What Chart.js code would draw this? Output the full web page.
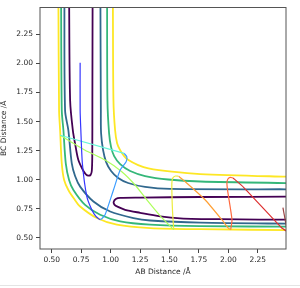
<!DOCTYPE html>
<html>
<head>
<meta charset="utf-8">
<script src="https://cdn.jsdelivr.net/npm/chart.js@4.4.0/dist/chart.umd.min.js"></script>
<style>
  body { margin: 0; background: #ffffff; }
  #box { width: 300px; height: 288px; }
</style>
</head>
<body>
<div id="box"><canvas id="contourChart" width="300" height="288"></canvas></div>
<script>
// Ticks dos eixos
var abTicks = [0.50, 0.75, 1.00, 1.25, 1.50, 1.75, 2.00, 2.25];
var bcTicks = [0.50, 0.75, 1.00, 1.25, 1.50, 1.75, 2.00, 2.25];

// Linhas de contorno (AB, BC)
var purpleEntrance = [[0.647,2.60],[0.656,1.681],[0.679,1.425],[0.700,1.30],[0.726,1.17],[0.769,1.075],[0.790,1.047],[0.811,1.035],[0.830,1.042],[0.840,1.075],[0.844,1.20],[0.845,1.681],[0.847,2.60]];
var purpleExit = [[2.60,0.855],[1.761,0.852],[1.251,0.847],[1.081,0.844],[1.047,0.836],[1.026,0.810],[1.034,0.784],[1.064,0.767],[1.123,0.742],[1.251,0.716],[1.421,0.686],[1.591,0.669],[1.931,0.661],[2.60,0.656]];
var blueOuter = [[0.607,2.60],[0.613,1.596],[0.641,1.425],[0.670,1.140],[0.698,1.032],[0.741,0.941],[0.854,0.813],[0.996,0.727],[1.194,0.671],[1.336,0.650],[1.761,0.631],[2.60,0.622]];
var greenOuter = [[0.579,2.60],[0.585,1.596],[0.599,1.425],[0.619,1.140],[0.647,0.998],[0.684,0.912],[0.783,0.784],[0.911,0.699],[1.081,0.642],[1.336,0.614],[1.761,0.601],[2.60,0.597]];
var yellowOuter = [[0.556,2.60],[0.562,1.596],[0.571,1.425],[0.585,1.140],[0.605,0.998],[0.641,0.912],[0.690,0.836],[0.741,0.770],[0.883,0.671],[1.053,0.614],[1.336,0.585],[1.761,0.575],[2.60,0.567]];
var blueInner = [[0.913,2.60],[0.917,1.596],[0.919,1.399],[0.936,1.254],[0.962,1.152],[1.004,1.075],[1.064,1.015],[1.149,0.972],[1.293,0.938],[1.506,0.921],[2.60,0.918]];
var greenInner = [[0.970,2.60],[0.973,1.681],[0.987,1.399],[1.004,1.280],[1.030,1.203],[1.081,1.134],[1.166,1.075],[1.293,1.032],[1.489,1.002],[1.761,0.985],[2.60,0.970]];
var yellowInner = [[1.019,2.60],[1.024,1.681],[1.038,1.425],[1.055,1.314],[1.081,1.254],[1.115,1.203],[1.151,1.169],[1.234,1.126],[1.321,1.098],[1.520,1.069],[1.761,1.049],[2.49,1.026],[2.60,1.025]];

// Trajetória, por trechos (cor muda com o tempo)
var traj1 = [[0.741,2.006],[0.741,1.596],[0.747,1.425],[0.760,1.140],[0.798,0.855],[0.840,0.742],[0.875,0.685],[0.908,0.657]];
var traj2 = [[0.908,0.657],[0.925,0.665],[0.953,0.699],[1.024,0.912],[1.081,1.083],[1.132,1.154],[1.138,1.197],[1.115,1.226]];
var traj3 = [[1.115,1.226],[0.571,1.382]];
var traj4 = [[0.571,1.382],[0.783,1.254],[0.953,1.169],[1.095,1.069],[1.208,0.955],[1.308,0.827],[1.421,0.690],[1.536,0.571]];
var traj5 = [[1.536,0.571],[1.525,0.75],[1.520,0.970],[1.528,1.015],[1.550,1.032],[1.577,1.030]];
var traj6 = [[1.577,1.030],[1.62,0.995],[1.80,0.83],[1.95,0.65],[2.00,0.585],[2.02,0.571]];
var traj7 = [[2.02,0.571],[2.031,0.656],[1.995,0.90],[1.988,0.970],[1.995,1.005],[2.016,1.021],[2.04,1.015]];
var traj8 = [[2.04,1.015],[2.13,0.935],[2.45,0.59],[2.50,0.555]];
var traj9 = [[2.50,0.56],[2.464,0.76]];

window.onload = function () {
    graficoContorno();
}

function linha(pontos, cor, largura, tensao) {
    return {
        data: pontos.map(function (p) { return { x: p[0], y: p[1] }; }),
        showLine: true,
        borderColor: cor,
        borderWidth: largura,
        pointRadius: 0,
        fill: false,
        tension: tensao
    };
}

// Moldura do gráfico (spines) e linha cinza do rodapé
var moldura = {
    id: 'moldura',
    afterDraw: function (chart) {
        var ctx = chart.ctx;
        var a = chart.chartArea;
        ctx.save();
        ctx.strokeStyle = '#555555';
        ctx.lineWidth = 1;
        ctx.strokeRect(a.left, a.top, a.right - a.left, a.bottom - a.top);
        ctx.strokeStyle = '#e4e4e4';
        ctx.beginPath();
        ctx.moveTo(0, 285.5);
        ctx.lineTo(300, 285.5);
        ctx.stroke();
        ctx.restore();
    }
};

function graficoContorno() {
    var ctx = document.getElementById("contourChart").getContext("2d");
    var fonte = { family: 'DejaVu Sans', size: 7.5 };
    new Chart(ctx, {
        type: 'scatter',
        data: {
            datasets: [
                // trajetória por cima
                linha(traj1, '#3535ff', 1.2, 0.2),
                linha(traj2, '#3c9dff', 1.2, 0.2),
                linha(traj3, '#66f5d8', 1.2, 0),
                linha(traj4, '#adff5c', 1.2, 0.2),
                linha(traj5, '#ecec3c', 1.2, 0.2),
                linha(traj6, '#ffa035', 1.2, 0.2),
                linha(traj7, '#ff6a40', 1.2, 0.2),
                linha(traj8, '#dd3030', 1.2, 0.1),
                linha(traj9, '#9c4444', 1.2, 0),
                // contornos (viridis)
                linha(purpleEntrance, '#440154', 1.8, 0.3),
                linha(purpleExit, '#440154', 1.8, 0.3),
                linha(blueOuter, '#31688e', 1.8, 0.3),
                linha(blueInner, '#31688e', 1.8, 0.3),
                linha(greenOuter, '#35b779', 1.8, 0.3),
                linha(greenInner, '#35b779', 1.8, 0.3),
                linha(yellowOuter, '#fde725', 1.8, 0.3),
                linha(yellowInner, '#fde725', 1.8, 0.3)
            ]
        },
        options: {
            responsive: false,
            animation: false,
            layout: { padding: { left: 0, right: 14, top: 6, bottom: 6 } },
            plugins: {
                legend: { display: false },
                tooltip: { enabled: false }
            },
            scales: {
                x: {
                    type: 'linear',
                    min: 0.4,
                    max: 2.49,
                    afterFit: function (s) { s.height = 33; },
                    afterBuildTicks: function (s) {
                        s.ticks = abTicks.map(function (v) { return { value: v }; });
                    },
                    ticks: {
                        autoSkip: false,
                        maxRotation: 0,
                        padding: 3,
                        color: '#262626',
                        font: fonte,
                        callback: function (v) { return Number(v).toFixed(2); }
                    },
                    grid: { drawOnChartArea: false, drawTicks: true, tickLength: 4, color: '#444444' },
                    border: { display: false },
                    title: {
                        display: true,
                        text: 'AB Distance /Å',
                        color: '#262626',
                        font: fonte,
                        padding: { top: 0, bottom: 5 }
                    }
                },
                y: {
                    type: 'linear',
                    min: 0.405,
                    max: 2.48,
                    afterFit: function (s) { s.width = 40; },
                    afterBuildTicks: function (s) {
                        s.ticks = bcTicks.map(function (v) { return { value: v }; });
                    },
                    ticks: {
                        autoSkip: false,
                        padding: 3,
                        color: '#262626',
                        font: fonte,
                        callback: function (v) { return Number(v).toFixed(2); }
                    },
                    grid: { drawOnChartArea: false, drawTicks: true, tickLength: 4, color: '#444444' },
                    border: { display: false },
                    title: {
                        display: true,
                        text: 'BC Distance /Å',
                        color: '#262626',
                        font: fonte,
                        padding: { top: 0, bottom: 0 }
                    }
                }
            }
        },
        plugins: [moldura]
    });
}
</script>
</body>
</html>
